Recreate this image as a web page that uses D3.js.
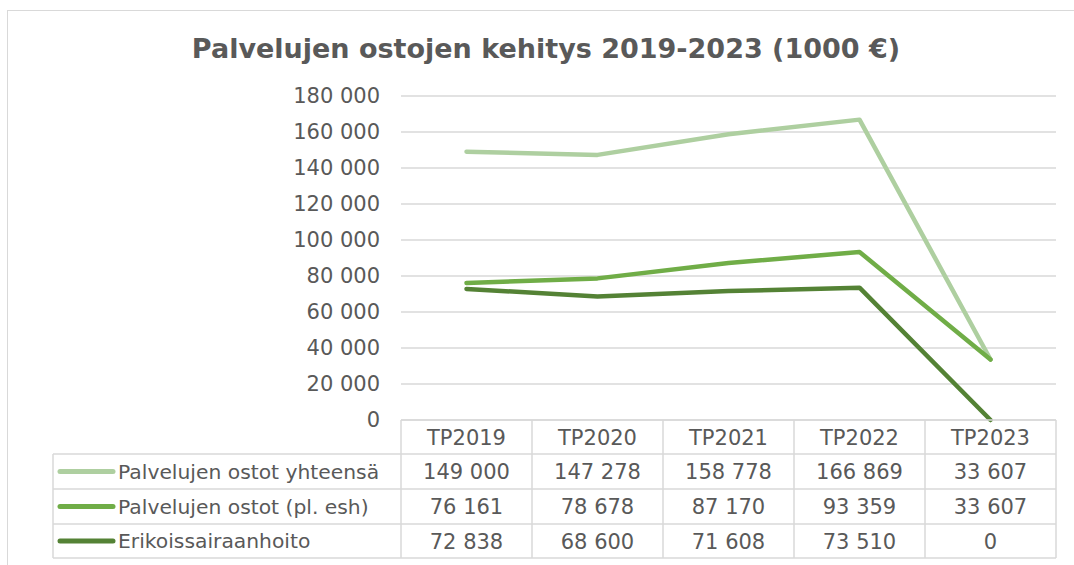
<!DOCTYPE html>
<html><head><meta charset="utf-8">
<script src="https://cdn.jsdelivr.net/npm/d3@7"></script>
<style>body{margin:0;background:#fff}svg{display:block}text{font-family:"DejaVu Sans",Verdana,sans-serif;fill:#595959}</style>
</head><body>
<script>
const categories = ["TP2019","TP2020","TP2021","TP2022","TP2023"];
const seriesNames = ["Palvelujen ostot yhteensä","Palvelujen ostot (pl. esh)","Erikoissairaanhoito"];
const yhteensa = [149000,147278,158778,166869,33607];
const plEsh = [76161,78678,87170,93359,33607];
const esh = [72838,68600,71608,73510,0];
const yTicks = [0,20000,40000,60000,80000,100000,120000,140000,160000,180000];
const colors = ["#AECFA0","#70AD47","#548235"];
const series = [yhteensa, plEsh, esh];

const W=1074,H=565;
const svg=d3.select("body").append("svg").attr("width",W).attr("height",H);
svg.append("rect").attr("x",7.5).attr("y",10.5).attr("width",1100).attr("height",600).attr("fill","none").attr("stroke","#d9d9d9");

const fmt = v => d3.format(",")(v).replace(/,/g," ");

svg.append("text").attr("x",546).attr("y",58).attr("text-anchor","middle")
  .style("font-size","27px").style("font-weight","bold").text("Palvelujen ostojen kehitys 2019-2023 (1000 €)");

const x=d3.scaleBand().domain(categories).range([401,1056]);
const y=d3.scaleLinear().domain([0,180000]).range([420,96]);

const grid=svg.append("g");
grid.selectAll("line").data(yTicks).join("line")
  .attr("x1",401).attr("x2",1056).attr("y1",d=>y(d)).attr("y2",d=>y(d))
  .attr("stroke","#d9d9d9").attr("stroke-width",1.5);

const yAxis=svg.append("g").attr("transform","translate(401,0)")
  .call(d3.axisLeft(y).tickValues(yTicks).tickFormat(fmt).tickSize(0).tickPadding(21));
yAxis.select(".domain").remove();
yAxis.selectAll("text").style("font-size","21px").attr("fill","#595959").attr("dy","0.32em");

const line=d3.line().x((d,i)=>x(categories[i])+x.bandwidth()/2).y(d=>y(d));
series.forEach((s,k)=>{
  svg.append("path").datum(s).attr("d",line).attr("fill","none")
    .attr("stroke",colors[k]).attr("stroke-width",4.5).attr("stroke-linecap","round").attr("stroke-linejoin","round");
});

// data table
const rowTops=[420,454,489,524,558];
const tb=svg.append("g");
const bc="#d9d9d9";
tb.append("line").attr("x1",401).attr("x2",1056).attr("y1",420).attr("y2",420).attr("stroke",bc).attr("stroke-width",1.5);
[454,489,524,558].forEach(yy=>tb.append("line").attr("x1",53).attr("x2",1056).attr("y1",yy).attr("y2",yy).attr("stroke",bc).attr("stroke-width",1.5));
x.domain().forEach(c=>{
  tb.append("line").attr("x1",x(c)).attr("x2",x(c)).attr("y1",420).attr("y2",558).attr("stroke",bc).attr("stroke-width",1.5);
});
tb.append("line").attr("x1",1056).attr("x2",1056).attr("y1",420).attr("y2",558).attr("stroke",bc).attr("stroke-width",1.5);
tb.append("line").attr("x1",53).attr("x2",53).attr("y1",454).attr("y2",558).attr("stroke",bc).attr("stroke-width",1.5);

categories.forEach(c=>{
  tb.append("text").attr("x",x(c)+x.bandwidth()/2).attr("y",(420+454)/2).attr("dy","0.36em")
    .attr("text-anchor","middle").style("font-size","21px").text(c);
});
series.forEach((s,k)=>{
  const cy=(rowTops[k+1]+rowTops[k+2])/2;
  tb.append("line").attr("x1",60).attr("x2",113).attr("y1",cy).attr("y2",cy)
    .attr("stroke",colors[k]).attr("stroke-width",5).attr("stroke-linecap","round");
  tb.append("text").attr("x",118).attr("y",cy).attr("dy","0.36em").style("font-size","20.3px").text(seriesNames[k]);
  s.forEach((v,i)=>{
    tb.append("text").attr("x",x(categories[i])+x.bandwidth()/2).attr("y",cy).attr("dy","0.36em")
      .attr("text-anchor","middle").style("font-size","21px").text(fmt(v));
  });
});
</script>
</body></html>
